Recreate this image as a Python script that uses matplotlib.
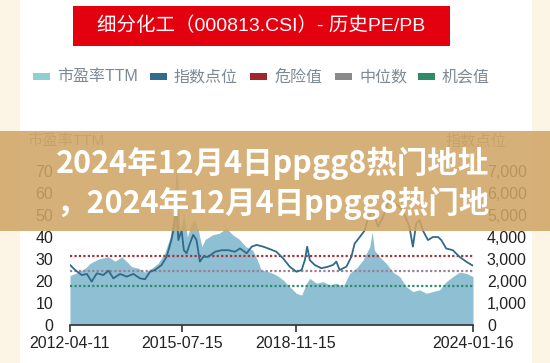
import numpy as np
import pandas as pd
import matplotlib
matplotlib.use("Agg")
import matplotlib.pyplot as plt
import matplotlib.dates as mdates
from matplotlib.patches import Rectangle

plt.rcParams['font.family'] = ['Liberation Sans', 'Noto Sans CJK SC']

# ---- data ----
pe_dates = ["2012-04-11", "2012-06-10", "2012-09-20", "2012-11-10", "2013-02-10",
            "2013-05-25", "2013-08-05", "2013-10-15", "2014-01-30", "2014-04-10",
            "2014-06-20", "2014-08-30", "2014-11-05", "2015-01-15", "2015-03-15",
            "2015-04-15", "2015-05-20", "2015-06-10", "2015-06-28", "2015-08-05",
            "2015-09-15", "2015-10-25", "2015-12-01", "2016-01-10", "2016-02-15",
            "2016-03-25", "2016-06-10", "2016-08-20", "2016-11-01", "2017-01-10",
            "2017-03-20", "2017-05-30", "2017-08-10", "2017-09-30", "2017-11-10",
            "2018-02-10", "2018-04-20", "2018-07-01", "2018-09-10", "2018-11-20",
            "2019-01-15", "2019-03-08", "2019-04-12", "2019-06-20", "2019-08-30",
            "2019-11-10", "2020-01-20", "2020-04-01", "2020-06-10", "2020-08-20",
            "2020-10-30", "2021-01-10", "2021-02-05", "2021-03-01", "2021-04-25",
            "2021-07-05", "2021-09-15", "2021-11-25", "2022-02-05", "2022-04-15",
            "2022-06-25", "2022-09-05", "2022-11-15", "2023-01-25", "2023-04-05",
            "2023-06-15", "2023-08-25", "2023-11-05", "2024-01-16"]
pe_values = [22.5, 23.5, 25.8, 28.0, 30.0,
             31.0, 29.0, 31.0, 26.5, 25.8,
             24.0, 25.8, 28.0, 32.6, 40.0,
             49.0, 72.0, 64.0, 42.0, 51.0,
             40.0, 46.0, 48.0, 43.0, 35.6,
             39.0, 41.0, 41.7, 44.0, 41.0,
             39.0, 35.6, 34.0, 29.5, 25.0,
             24.0, 22.7, 20.5, 17.4, 14.4,
             13.6, 19.0, 21.2, 19.0, 19.7,
             18.2, 19.0, 17.4, 23.5, 25.8,
             29.5, 35.6, 42.4, 34.0, 31.0,
             28.0, 24.0, 22.0, 17.4, 15.2,
             16.0, 14.4, 15.2, 16.0, 19.7,
             22.0, 24.0, 23.5, 22.0]

idx_dates = ["2012-04-11", "2012-06-05", "2012-08-15", "2012-10-08", "2012-11-28",
             "2013-01-22", "2013-04-01", "2013-05-27", "2013-07-17", "2013-09-27",
             "2013-12-06", "2014-02-16", "2014-04-27", "2014-06-20", "2014-08-12",
             "2014-10-04", "2014-12-14", "2015-02-05", "2015-03-28", "2015-04-26",
             "2015-05-20", "2015-06-10", "2015-07-15", "2015-08-08", "2015-09-06",
             "2015-10-11", "2015-11-16", "2015-12-21", "2016-01-26", "2016-03-02",
             "2016-04-24", "2016-07-06", "2016-09-14", "2016-11-25", "2017-02-03",
             "2017-03-29", "2017-06-08", "2017-07-31", "2017-09-22", "2017-12-02",
             "2018-02-10", "2018-04-20", "2018-07-01", "2018-09-10", "2018-11-20",
             "2019-01-15", "2019-02-18", "2019-03-15", "2019-04-12", "2019-06-03",
             "2019-08-13", "2019-10-23", "2019-12-15", "2020-01-20", "2020-02-24",
             "2020-05-06", "2020-06-28", "2020-08-02", "2020-09-26", "2020-11-18",
             "2020-12-24", "2021-02-14", "2021-04-08", "2021-05-31", "2021-08-09",
             "2021-10-18", "2021-12-28", "2022-03-09", "2022-04-15", "2022-05-20",
             "2022-06-25", "2022-07-30", "2022-09-23", "2022-11-15", "2023-01-08",
             "2023-02-12", "2023-04-05", "2023-06-15", "2023-08-25", "2023-11-05",
             "2024-01-01", "2024-01-16"]
idx_values = [2730, 2500, 2270, 2320, 1970,
              2350, 2270, 2470, 2120, 2320,
              2200, 2320, 2120, 2080, 2420,
              2500, 2730, 3100, 3860, 4470,
              5400, 3860, 4300, 3400, 3260,
              3700, 4100, 3860, 2880, 3100,
              3100, 3330, 3400, 3400, 3330,
              3480, 3260, 3560, 3640, 3560,
              3450, 3330, 3030, 2650, 2420,
              2500, 2950, 3560, 2950, 2730,
              2580, 2650, 2730, 2880, 2500,
              2650, 3100, 3700, 4000, 4300,
              4900, 5200, 4470, 4900, 5700,
              5500, 5200, 4470, 3560, 4600,
              4770, 4300, 3860, 4000, 4000,
              3860, 3480, 3400, 3100, 2880,
              2730, 2700]

danger_pe = 31.5
median_pe = 24.4
chance_pe = 17.7

date_ticks = ["2012-04-11", "2015-07-15", "2018-11-15", "2024-01-16"]
pe_ticks = [0, 10, 20, 30, 40, 50, 60, 70]
idx_ticks = [0, 1000, 2000, 3000, 4000, 5000, 6000, 7000]

legend_names = ["市盈率TTM", "指数点位", "危险值", "中位数", "机会值"]
legend_colors = ["#8ecfd2", "#2f6a8f", "#a3252c", "#8a8a8a", "#2e8b66"]
legend_patch_x = [33, 150, 250, 335, 418]

title = "细分化工（000813.CSI）- 历史PE/PB"
banner_lines = ["2024年12月4日ppgg8热门地址", "，2024年12月4日ppgg8热门地"]

# ---- figure ----
W, H = 550, 363
fig = plt.figure(figsize=(5.5, 3.63), dpi=100, facecolor="#fcf5e6")

def fx(px):
    return px / W

def fy(py):
    return 1 - py / H

# white panel
fig.patches.append(Rectangle((fx(20), 0), fx(512), 1, transform=fig.transFigure,
                             facecolor="white", edgecolor="none", zorder=-5))

# title box
fig.patches.append(Rectangle((fx(73), fy(46)), fx(377), 40 / H, transform=fig.transFigure,
                             facecolor="#e3000f", edgecolor="none", zorder=1))
fig.text(fx(261), fy(26), title, color="white", fontsize=14, ha="center", va="center",
         zorder=2)

# legend row
for name, col, x0 in zip(legend_names, legend_colors, legend_patch_x):
    fig.patches.append(Rectangle((fx(x0), fy(80)), fx(17), 7 / H, transform=fig.transFigure,
                                 facecolor=col, edgecolor="none", zorder=1))
    fig.text(fx(x0 + 24), fy(77), name, color="#7d8995", fontsize=11.5,
             ha="left", va="center", zorder=2)

# axes
ax = fig.add_axes([fx(70), fy(325), fx(403), 165 / H])
ax.set_facecolor("none")
pe_x = pd.to_datetime(pe_dates)
idx_x = pd.to_datetime(idx_dates)

ax.fill_between(pe_x, 0, pe_values, color="#8fbfd2", linewidth=0, zorder=1)
dots = dict(linestyle=(0, (1, 1)), linewidth=1.6, dash_capstyle="butt", zorder=3)
ax.axhline(danger_pe, color="#a5333b", **dots)
ax.axhline(median_pe, color="#9a8094", **dots)
ax.axhline(chance_pe, color="#2e8b6b", **dots)

ax.set_ylim(0, 75)
ax.set_xlim(pd.Timestamp(date_ticks[0]), pd.Timestamp(date_ticks[-1]))
ax.set_yticks(pe_ticks)
ax.set_xticks(pd.to_datetime(date_ticks))
ax.xaxis.set_major_formatter(mdates.DateFormatter("%Y-%m-%d"))
ax.tick_params(axis="y", length=0, pad=12, labelsize=11.5, labelcolor="#222222")
ax.tick_params(axis="x", length=5, width=1.2, color="#333333", pad=3,
               labelsize=11.5, labelcolor="#222222")
for s in ["top", "left", "right"]:
    ax.spines[s].set_visible(False)
ax.spines["bottom"].set_color("#333333")
ax.spines["bottom"].set_linewidth(1.2)

ax2 = ax.twinx()
ax2.plot(idx_x, idx_values, color="#2f6a8a", linewidth=1.3, zorder=4)
ax2.set_ylim(0, 7500)
ax2.set_yticks(idx_ticks)
ax2.set_yticklabels([f"{v:,}" for v in idx_ticks])
ax2.tick_params(axis="y", length=0, pad=10, labelsize=11.5, labelcolor="#222222")
for s in ["top", "left", "right", "bottom"]:
    ax2.spines[s].set_visible(False)

fig.text(fx(27), fy(141), "市盈率TTM", color="#8c8c8c", fontsize=11, ha="left", va="center")
fig.text(fx(507), fy(141), "指数点位", color="#8c8c8c", fontsize=11, ha="right", va="center")

# overlay banner
fig.patches.append(Rectangle((0, fy(231)), 1, 100 / H, transform=fig.transFigure,
                             facecolor="#d0a565", alpha=0.87, edgecolor="none", zorder=10))
fig.text(fx(56), fy(163), banner_lines[0], color="white", fontsize=22, fontweight="bold",
         family=["Noto Sans CJK SC"], ha="left", va="center", zorder=11)
fig.text(fx(56), fy(203), banner_lines[1], color="white", fontsize=22, fontweight="bold",
         family=["Noto Sans CJK SC"], ha="left", va="center", zorder=11)

fig.savefig("out.png", dpi=100, facecolor=fig.get_facecolor())
